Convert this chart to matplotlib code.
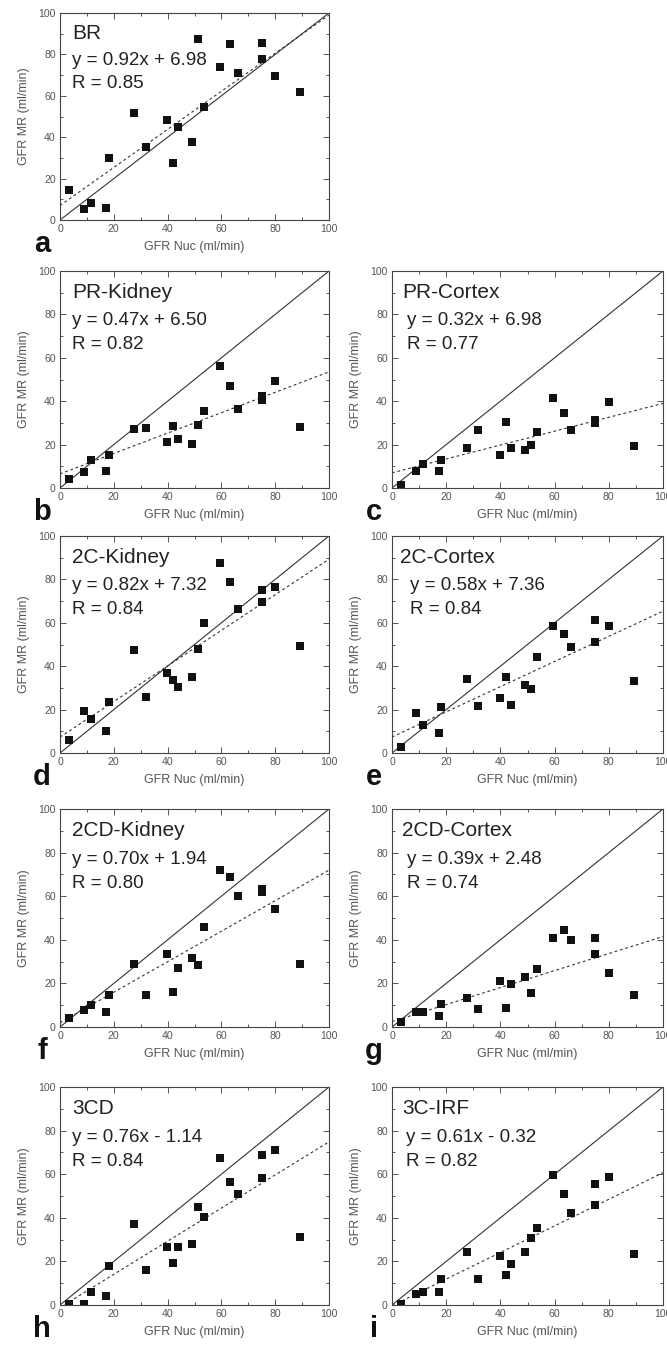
import matplotlib
matplotlib.use("Agg")
import matplotlib.pyplot as plt
from matplotlib.ticker import MultipleLocator

plt.rcParams['font.family'] = ['Liberation Sans', 'DejaVu Sans']

# shared x values (GFR Nuc)
gfr_nuc = [3.5, 8.8, 11.5, 17.2, 18.2, 27.5, 31.8, 39.7, 42.1, 43.8,
           49.0, 51.2, 53.4, 59.5, 63.3, 66.2, 75.0, 75.0, 80.1, 89.3]

br = [14.5, 5.5, 8.0, 6.0, 30.0, 51.5, 35.5, 48.5, 27.5, 45.0,
      37.5, 87.5, 54.5, 74.0, 85.0, 71.0, 85.5, 78.0, 69.5, 62.0]
pr_kidney = [4.0, 7.5, 13.0, 8.0, 15.0, 27.0, 27.5, 21.0, 28.5, 22.5,
             20.5, 29.0, 35.5, 56.0, 47.0, 36.5, 42.5, 40.5, 49.5, 28.0]
pr_cortex = [1.5, 8.0, 11.0, 8.0, 13.0, 18.5, 26.5, 15.0, 30.5, 18.5,
             17.5, 20.0, 26.0, 41.5, 34.5, 26.5, 31.5, 30.0, 39.5, 19.5]
c2_kidney = [6.1, 19.3, 15.8, 10.1, 23.4, 47.3, 26.0, 36.8, 33.8, 30.2,
             35.2, 47.9, 59.7, 87.6, 78.6, 66.5, 75.0, 69.7, 76.4, 49.3]
c2_cortex = [2.6, 18.4, 12.7, 9.0, 21.4, 34.1, 21.7, 25.3, 34.8, 22.2,
             31.5, 29.6, 44.3, 58.7, 54.7, 48.9, 61.4, 51.0, 58.5, 33.2]
cd2_kidney = [4.3, 8.0, 10.3, 6.9, 14.5, 29.1, 14.5, 33.7, 15.9, 27.0,
              31.5, 28.3, 45.9, 72.0, 68.9, 60.2, 63.1, 61.9, 54.2, 28.8]
cd2_cortex = [2.5, 6.7, 6.9, 5.2, 10.4, 13.3, 8.3, 21.0, 8.6, 19.6,
              22.8, 15.6, 26.8, 40.7, 44.4, 40.0, 40.7, 33.4, 25.0, 14.9]
cd3 = [0.3, 0.3, 6.1, 4.1, 17.7, 37.2, 15.9, 26.8, 19.4, 26.8,
       27.8, 45.0, 40.5, 67.3, 56.6, 50.9, 68.7, 58.1, 71.3, 31.3]
c3_irf = [0.3, 5.1, 6.1, 5.8, 11.8, 24.1, 11.8, 22.6, 13.7, 19.0,
          24.4, 30.7, 35.3, 59.8, 50.7, 42.4, 55.6, 46.1, 58.5, 23.2]

titles = ["BR", "PR-Kidney", "PR-Cortex", "2C-Kidney", "2C-Cortex",
          "2CD-Kidney", "2CD-Cortex", "3CD", "3C-IRF"]
series = [br, pr_kidney, pr_cortex, c2_kidney, c2_cortex,
          cd2_kidney, cd2_cortex, cd3, c3_irf]
slopes = [0.92, 0.47, 0.32, 0.82, 0.58, 0.70, 0.39, 0.76, 0.61]
intercepts = [6.98, 6.50, 6.98, 7.32, 7.36, 1.94, 2.48, -1.14, -0.32]
r_values = [0.85, 0.82, 0.77, 0.84, 0.84, 0.80, 0.74, 0.84, 0.82]
letters = ["a", "b", "c", "d", "e", "f", "g", "h", "i"]

W, H = 667, 1345
fig = plt.figure(figsize=(W / 100, H / 100), dpi=100)

# axes boxes in pixels: (left, top, right, bottom)
rows = [(13, 220), (271, 488), (536, 753), (809, 1027), (1087, 1305)]
cols = [(60, 329), (392, 663)]
boxes = [(cols[0], rows[0]),
         (cols[0], rows[1]), (cols[1], rows[1]),
         (cols[0], rows[2]), (cols[1], rows[2]),
         (cols[0], rows[3]), (cols[1], rows[3]),
         (cols[0], rows[4]), (cols[1], rows[4])]
eq_x = [4.5, 4.5, 5.5, 4.5, 6.8, 4.5, 5.6, 4.5, 5.2]
title_x = [4.5, 4.5, 3.8, 4.5, 3.1, 4.5, 3.8, 4.5, 3.8]

gray = '#555555'
dark = '#222222'
for k in range(9):
    (l, r), (t, b) = boxes[k]
    ax = fig.add_axes([l / W, (H - b) / H, (r - l) / W, (b - t) / H])
    ax.set_xlim(0, 100)
    ax.set_ylim(0, 100)
    ax.plot([0, 100], [0, 100], color='#333333', lw=0.8)
    ax.plot([0, 100], [intercepts[k], intercepts[k] + slopes[k] * 100],
            color='#333333', lw=0.8, ls=(0, (2.5, 2.5)))
    ax.plot(gfr_nuc, series[k], 's', color='#111111', markersize=5.2,
            markeredgewidth=0)
    ax.xaxis.set_major_locator(MultipleLocator(20))
    ax.yaxis.set_major_locator(MultipleLocator(20))
    ax.xaxis.set_minor_locator(MultipleLocator(10))
    ax.yaxis.set_minor_locator(MultipleLocator(10))
    ax.tick_params(which='both', direction='in', top=True, right=True,
                   colors=gray, labelsize=7.6, width=0.7)
    ax.tick_params(which='major', length=4, pad=3)
    ax.tick_params(which='minor', length=2)
    for sp in ax.spines.values():
        sp.set_color('#444444')
        sp.set_linewidth(0.8)
    ax.set_xlabel("GFR Nuc (ml/min)", fontsize=9, color=gray, labelpad=5)
    ax.set_ylabel("GFR MR (ml/min)", fontsize=9, color=gray, labelpad=6)
    ax.text(title_x[k], 90, titles[k], fontsize=15, color=dark,
            ha='left', va='center')
    sign = '+' if intercepts[k] >= 0 else '-'
    ax.text(eq_x[k], 77, f"y = {slopes[k]:.2f}x {sign} {abs(intercepts[k]):.2f}",
            fontsize=13.5, color=dark, ha='left', va='center')
    ax.text(eq_x[k], 66, f"R = {r_values[k]:.2f}", fontsize=13.5, color=dark,
            ha='left', va='center')
    fig.text((l - 18) / W, (H - (b + 24)) / H, letters[k], fontsize=21,
             fontweight='bold', color='#111111', ha='center', va='center')

fig.savefig("out.png", dpi=100)
